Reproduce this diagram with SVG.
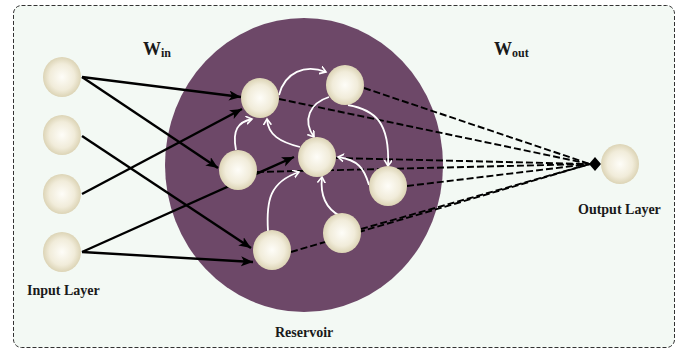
<svg xmlns="http://www.w3.org/2000/svg" width="681" height="351" viewBox="0 0 681 351">
<style>
.node{fill:url(#pearl)}
.inp{stroke:#000;stroke-width:2.4;fill:none;marker-end:url(#blk)}
.rec{stroke:#fff;stroke-width:1.8;fill:none;marker-end:url(#wht)}
.out{stroke:#000;stroke-width:1.9;fill:none;stroke-dasharray:7 3}
.lbl{font-family:"Liberation Serif","Times New Roman",serif;font-weight:bold;fill:#1a1a1a}
</style>
<defs>
<radialGradient id="pearl" cx="50%" cy="50%" r="55%">
<stop offset="0" stop-color="#fefdf8"/>
<stop offset="0.6" stop-color="#f1ecda"/>
<stop offset="1" stop-color="#d6cdab"/>
</radialGradient>
<marker id="blk" markerUnits="userSpaceOnUse" markerWidth="14" markerHeight="12" refX="12" refY="5" orient="auto">
<path d="M0,0 L12,5 L0,10 L3,5 z" fill="#000"/>
</marker>
<marker id="wht" markerUnits="userSpaceOnUse" markerWidth="10" markerHeight="10" refX="6" refY="4" orient="auto">
<path d="M0,0 L6,4 L0,8" fill="none" stroke="#fff" stroke-width="1.6"/>
</marker>
</defs>
<rect x="0" y="0" width="681" height="351" fill="#fff"/>
<rect id="frame" x="13.5" y="5.5" width="661" height="342" rx="8" fill="#f3f9f4" stroke="#333" stroke-width="1" stroke-dasharray="4 2"/>
<ellipse id="reservoir" cx="304" cy="165" rx="139" ry="147" fill="#6d4868"/>
<g id="connectors">
<line class="out" x1="364" y1="88" x2="590" y2="164"/>
<line class="out" x1="279" y1="99" x2="590" y2="164"/>
<line class="out" x1="336" y1="158" x2="590" y2="164"/>
<line class="out" x1="257" y1="172" x2="590" y2="164"/>
<line class="out" x1="407" y1="186" x2="590" y2="164"/>
<line class="out" x1="361" y1="229" x2="590" y2="164"/>
<line class="out" x1="291" y1="252" x2="590" y2="164"/>
<polygon points="589,164 595,157 601,164 595,171" fill="#000"/>
<line class="inp" x1="82" y1="77" x2="241" y2="97"/>
<line class="inp" x1="82" y1="77" x2="218" y2="168"/>
<line class="inp" x1="82" y1="136" x2="251" y2="248"/>
<line class="inp" x1="82" y1="194" x2="242" y2="109"/>
<line class="inp" x1="82" y1="252" x2="294" y2="157"/>
<line class="inp" x1="82" y1="252" x2="253" y2="262"/>
<path class="rec" d="M279,95 C285,72 305,64 326,72"/>
<path class="rec" d="M329,97 C310,103 302,120 314,137"/>
<path class="rec" d="M348,105 C375,110 390,122 388,166"/>
<path class="rec" d="M300,147 C280,142 268,135 267,119"/>
<path class="rec" d="M236,150 C232,130 238,122 252,119"/>
<path class="rec" d="M369,185 C364,168 358,160 338,157"/>
<path class="rec" d="M268,231 C266,200 270,182 299,172"/>
<path class="rec" d="M340,216 C325,208 320,195 322,177"/>
</g>
<g id="in1"><ellipse class="node" cx="62" cy="77" rx="19" ry="20"/></g>
<g id="in2"><ellipse class="node" cx="62" cy="135" rx="19" ry="20"/></g>
<g id="in3"><ellipse class="node" cx="62" cy="194" rx="19" ry="20"/></g>
<g id="in4"><ellipse class="node" cx="62" cy="252" rx="19" ry="20"/></g>
<g id="rA"><ellipse class="node" cx="260" cy="98" rx="19" ry="20"/></g>
<g id="rB"><ellipse class="node" cx="345" cy="85" rx="19" ry="20"/></g>
<g id="rC"><ellipse class="node" cx="238" cy="170" rx="19" ry="20"/></g>
<g id="rD"><ellipse class="node" cx="317" cy="157" rx="19" ry="20"/></g>
<g id="rE"><ellipse class="node" cx="388" cy="186" rx="19" ry="20"/></g>
<g id="rF"><ellipse class="node" cx="342" cy="233" rx="19" ry="20"/></g>
<g id="rG"><ellipse class="node" cx="272" cy="250" rx="19" ry="20"/></g>
<g id="output"><ellipse class="node" cx="620" cy="164" rx="19" ry="20"/></g>
<text class="lbl" x="143" y="55" font-size="18">W<tspan font-size="12" dy="2">in</tspan></text>
<text class="lbl" x="494" y="55" font-size="18">W<tspan font-size="12" dy="2">out</tspan></text>
<text class="lbl" x="27" y="295" font-size="14">Input Layer</text>
<text class="lbl" x="275" y="337" font-size="14">Reservoir</text>
<text class="lbl" x="578" y="214" font-size="14">Output Layer</text>
</svg>
